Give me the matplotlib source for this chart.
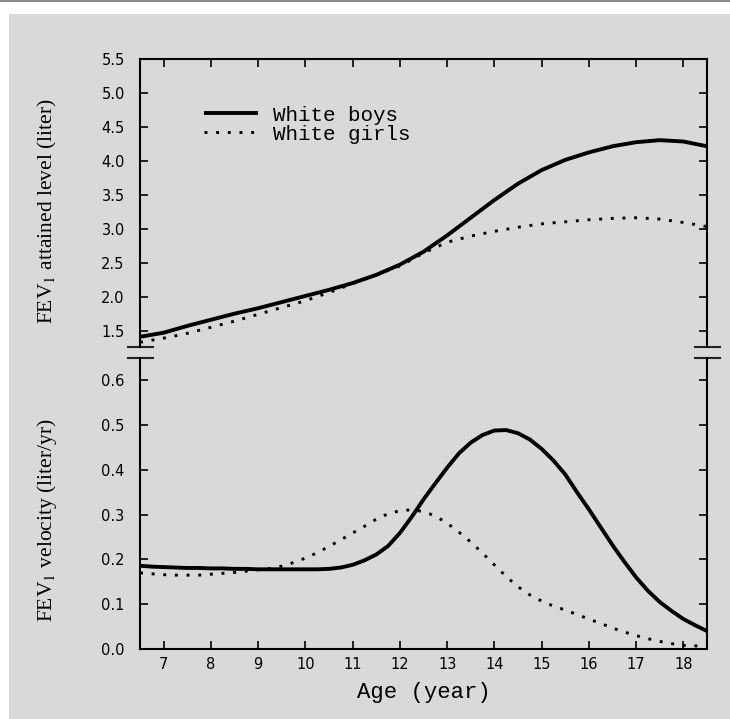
import numpy as np
import matplotlib.pyplot as plt
from matplotlib.patches import Rectangle

plt.rcParams['mathtext.fontset'] = 'stix'

# attained level (liter)
age_lvl = [6.5, 7, 7.5, 8, 8.5, 9, 9.5, 10, 10.5, 11, 11.5, 12, 12.5,
           13, 13.5, 14, 14.5, 15, 15.5, 16, 16.5, 17, 17.5, 18, 18.5]
boys_lvl = [1.41, 1.47, 1.57, 1.66, 1.75, 1.83, 1.92, 2.01, 2.10, 2.20, 2.32, 2.47, 2.66,
            2.90, 3.16, 3.42, 3.66, 3.86, 4.01, 4.12, 4.21, 4.27, 4.30, 4.28, 4.21]
girls_lvl = [1.33, 1.39, 1.46, 1.55, 1.64, 1.74, 1.84, 1.94, 2.06, 2.19, 2.32, 2.45, 2.64,
             2.80, 2.89, 2.96, 3.02, 3.07, 3.10, 3.13, 3.15, 3.16, 3.14, 3.09, 3.03]

# velocity (liter/yr)
age_vel = [6.5, 6.75, 7, 7.25, 7.5, 7.75, 8, 8.25, 8.5, 8.75, 9, 9.25, 9.5, 9.75,
           10, 10.25, 10.5, 10.75, 11, 11.25, 11.5, 11.75, 12, 12.25, 12.5, 12.75,
           13, 13.25, 13.5, 13.75, 14, 14.25, 14.5, 14.75, 15, 15.25, 15.5, 15.75,
           16, 16.25, 16.5, 16.75, 17, 17.25, 17.5, 17.75, 18, 18.25, 18.5]
boys_vel = [.186, .184, .183, .182, .181, .181, .180, .180, .179, .179, .178, .178, .178, .178,
            .178, .178, .179, .182, .188, .198, .211, .230, .259, .295, .334, .370,
            .405, .437, .461, .478, .488, .489, .482, .468, .447, .421, .390, .350,
            .312, .272, .232, .195, .160, .130, .105, .085, .067, .053, .040]
girls_vel = [.170, .168, .166, .165, .165, .165, .167, .169, .171, .174, .177, .180, .185, .193,
             .203, .215, .229, .244, .259, .274, .290, .302, .309, .311, .307, .297,
             .281, .261, .239, .214, .188, .162, .139, .121, .107, .096, .087, .077,
             .067, .057, .047, .038, .030, .023, .017, .012, .008, .007, .006]

xticks = list(range(7, 19))
lvl_ticks = [1.5, 2.0, 2.5, 3.0, 3.5, 4.0, 4.5, 5.0, 5.5]
vel_ticks = [0.0, 0.1, 0.2, 0.3, 0.4, 0.5, 0.6]

W, H = 730, 719
fig = plt.figure(figsize=(W / 100, H / 100), dpi=100, facecolor='white')
# scanned page background
fig.patches.append(Rectangle((9 / W, 0), 1, 1 - 14 / H, transform=fig.transFigure,
                             facecolor='#d9d9d9', edgecolor='none', zorder=-10))
fig.patches.append(Rectangle((0, 1 - 2 / H), 1, 2 / H, transform=fig.transFigure,
                             facecolor='#8a8a8a', edgecolor='none', zorder=-10))

ax1 = fig.add_axes([140 / W, 1 - 347 / H, 567 / W, (347 - 58.5) / H])
ax2 = fig.add_axes([140 / W, 1 - 649 / H, 567 / W, (649 - 358) / H])

solid = dict(color='black', lw=2.8, solid_capstyle='butt')
dotted = dict(color='black', lw=2.1, linestyle=(0, (1, 3.0)))

ax1.plot(age_lvl, boys_lvl, label='White boys', **solid)
ax1.plot(age_lvl, girls_lvl, label='White girls', **dotted)
ax2.plot(age_vel, boys_vel, **solid)
ax2.plot(age_vel, girls_vel, **dotted)

for ax in (ax1, ax2):
    ax.set_facecolor('none')
    ax.set_xlim(6.5, 18.5)
    ax.set_xticks(xticks)
    for s in ax.spines.values():
        s.set_linewidth(1.5)
    ax.tick_params(direction='in', length=6, width=1.2, labelsize=10.5, right=True, pad=11)
    for lab in ax.get_yticklabels() + ax.get_xticklabels():
        lab.set_family('DejaVu Sans')

ax1.set_ylim(1.26, 5.5)
ax1.set_yticks(lvl_ticks)
ax1.set_yticklabels(['%.1f' % v for v in lvl_ticks])
ax1.spines['bottom'].set_visible(False)
ax1.tick_params(axis='x', top=True, bottom=False, labelbottom=False)

ax2.set_ylim(0, 0.65)
ax2.set_yticks(vel_ticks)
ax2.set_yticklabels(['%.1f' % v for v in vel_ticks])
ax2.spines['top'].set_visible(False)
ax2.tick_params(axis='x', top=False, pad=6)

# axis break marks
d = 12.5 / 567
for ax, y in ((ax1, 0), (ax2, 1)):
    for x in (0, 1):
        ax.plot([x - d, x + d], [y, y], transform=ax.transAxes, color='#222222',
                lw=1.5, clip_on=False)

ax1.legend(loc='upper left', bbox_to_anchor=(0.095, 0.873), frameon=False,
           prop={'family': 'Liberation Mono', 'size': 15}, handlelength=2.6,
           handletextpad=0.72, labelspacing=0.0, borderpad=0)

ax2.set_xlabel('Age (year)', family='Liberation Mono', fontsize=16, labelpad=7)

fig.text(47 / W, 1 - 211 / H, 'FEV$_1$ attained level (liter)', rotation=90,
         ha='center', va='center', family='Liberation Serif', fontsize=15.5)
fig.text(47 / W, 1 - 520 / H, 'FEV$_1$ velocity (liter/yr)', rotation=90,
         ha='center', va='center', family='Liberation Serif', fontsize=15.5)

plt.savefig('out.png', dpi=100, facecolor=fig.get_facecolor())
